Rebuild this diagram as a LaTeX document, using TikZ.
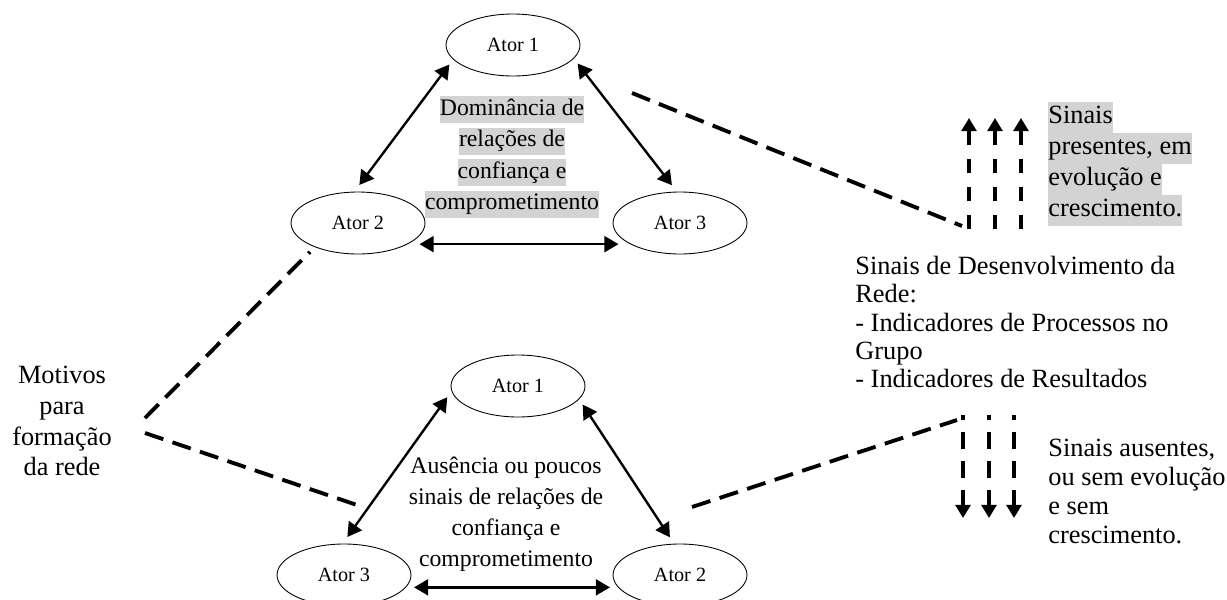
\documentclass[tikz,border=0pt]{standalone}
\usepackage{fontspec}
\setmainfont{Liberation Serif}
\usetikzlibrary{arrows.meta,shapes.geometric}
\definecolor{cinzarealce}{RGB}{211,211,211}
\newcommand{\realce}[1]{{\setlength{\fboxsep}{0pt}\colorbox{cinzarealce}{\strut #1}}}

\begin{document}
\begin{tikzpicture}[x=0.02cm,y=-0.02cm]
\useasboundingbox (0,0) rectangle (1227,599);

\tikzset{ator/.style = {shape=ellipse,draw,line width=0.5pt,minimum width=2.68cm,minimum height=1.24cm,inner sep=0pt,outer sep=4pt,font=\fontsize{11.5}{13}\selectfont}}
\tikzset{rel/.style = {<->,> = {Triangle[length=8pt,width=9pt]},line width=1.35pt}}
\tikzset{tracejado/.style = {line width=2.2pt,dash pattern=on 11pt off 5.5pt}}
\tikzset{sinal/.style = {->,> = {Triangle[length=7.5pt,width=8.5pt]},line width=2.2pt}}
\tikzset{texto/.style = {inner sep=0pt,font=\fontsize{15}{17.6}\selectfont}}

% atores (rede de cima)
\node[ator] (t1) at (513,45) {Ator 1};
\node[ator] (t2) at (358,223) {Ator 2};
\node[ator] (t3) at (680,223) {Ator 3};
% atores (rede de baixo)
\node[ator] (b1) at (518,386) {Ator 1};
\node[ator] (b3) at (344,575) {Ator 3};
\node[ator] (b2) at (680,575) {Ator 2};

% textos
\node[texto,align=center,font=\fontsize{13.5}{15.4}\selectfont] (dom) at (512,157)
  {\realce{Dominância de}\\[2.5pt]\realce{relações de}\\[2.5pt]\realce{confiança e}\\[2.5pt]\realce{comprometimento}};
\node[texto,align=center,font=\fontsize{13.5}{17.6}\selectfont] (aus) at (506,514)
  {Ausência ou poucos\\sinais de relações de\\confiança e\\comprometimento};
\node[texto,align=center] (mot) at (62,421) {Motivos\\para\\formação\\da rede};
\node[texto,align=left,anchor=west] (pres) at (1048,164)
  {\realce{Sinais}\\\realce{presentes, em}\\\realce{evolução e}\\\realce{crescimento.}};
\node[texto,align=left,anchor=west,font=\fontsize{15}{16}\selectfont] (des) at (855,322)
  {Sinais de Desenvolvimento da\\Rede:\\- Indicadores de Processos no\\Grupo\\- Indicadores de Resultados};
\node[texto,align=left,anchor=west,font=\fontsize{15}{16.5}\selectfont] (ause) at (1048,491)
  {Sinais ausentes,\\ou sem evolução\\e sem\\crescimento.};

% relacoes
\draw[rel] (t1.197) -- (t2.88);
\draw[rel] (t1.344) -- (t3.102);
\draw[rel] (t2.341) -- (t3.199);
\draw[rel] (b1.189) -- (b3.85);
\draw[rel] (b1.344) -- (b2.105);
\draw[rel] (b3.350) -- (b2.190);

% tracejados
\coordinate (mA) at (145,418);
\coordinate (mB) at (145,433);
\coordinate (fimB) at (357,505);
\coordinate (iniC) at (632,93);
\coordinate (fimC) at (962,226);
\coordinate (iniD) at (692,507);
\coordinate (fimD) at (957,420);
\draw[tracejado] (mA) -- (t2.211);
\draw[tracejado] (mB) -- (fimB);
\draw[tracejado] (iniC) -- (fimC);
\draw[tracejado] (iniD) -- (fimD);

% sinais
\foreach \x [count=\i] in {969,995,1021}{
  \coordinate (sb\i) at (\x,229);
  \coordinate (st\i) at (\x,118);
  \draw[sinal,dash pattern=on 8pt off 8pt] (sb\i) -- (st\i);
}
\foreach \x [count=\i] in {963,989,1014}{
  \coordinate (db\i) at (\x,415);
  \coordinate (dt\i) at (\x,518);
  \draw[sinal,dash pattern=on 10pt off 6.5pt,dash phase=7pt] (db\i) -- (dt\i);
}

\end{tikzpicture}
\end{document}
